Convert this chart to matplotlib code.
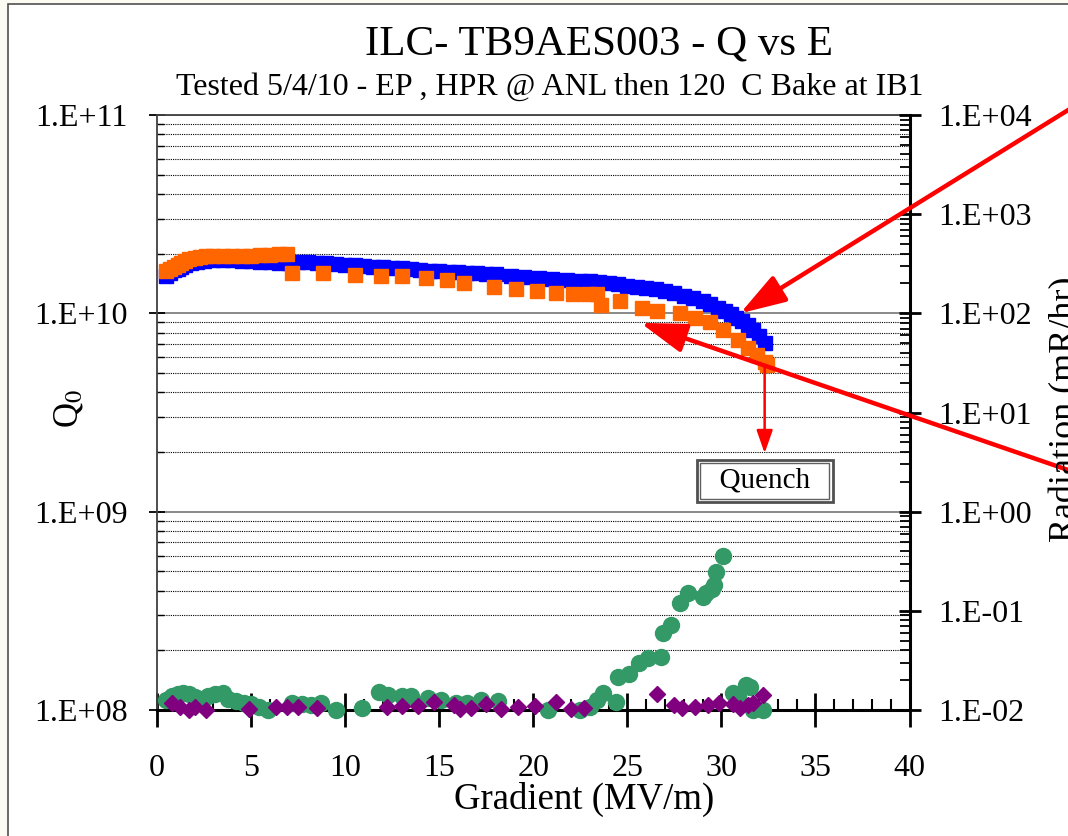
import numpy as np
import matplotlib
matplotlib.use('Agg')
import matplotlib.pyplot as plt
from matplotlib.patches import Rectangle
from matplotlib.ticker import FuncFormatter, LogLocator, NullFormatter, MultipleLocator

plt.rcParams['font.family'] = ['Liberation Serif', 'DejaVu Serif']
plt.rcParams['mathtext.fontset'] = 'stix'

# Q0 vs gradient, first test (blue) and second test (orange)
blue_e = [0.5, 0.7, 0.9, 1.1, 1.3, 1.5, 1.8, 2.1, 2.5, 3.0, 3.5, 4.0, 4.5, 5.0, 5.5, 6.0, 6.5, 7.0,
          7.5, 8.0, 8.5, 9.0, 9.5, 10.0, 10.5, 11.0, 11.5, 12.0, 12.5, 13.0, 13.5, 14.0, 14.5, 15.0,
          15.5, 16.0, 16.5, 17.0, 17.5, 18.0, 18.8, 19.5, 20.3, 21.0, 21.8, 22.5, 23.0, 23.5, 24.0,
          24.5, 25.0, 25.5, 26.0, 26.5, 27.0, 27.5, 28.0, 28.5, 29.0, 29.4, 29.8, 30.2, 30.5, 30.8,
          31.1, 31.4, 31.7, 32.0, 32.3]
blue_q = [1.55, 1.60, 1.65, 1.68, 1.72, 1.75, 1.79, 1.82, 1.84, 1.85, 1.85, 1.85, 1.84, 1.83, 1.82,
          1.81, 1.80, 1.80, 1.82, 1.81, 1.80, 1.79, 1.77, 1.76, 1.75, 1.74, 1.72, 1.71, 1.70, 1.69,
          1.68, 1.66, 1.64, 1.63, 1.62, 1.61, 1.60, 1.59, 1.58, 1.57, 1.54, 1.52, 1.50, 1.49, 1.47,
          1.46, 1.45, 1.44, 1.42, 1.40, 1.38, 1.36, 1.34, 1.32, 1.29, 1.26, 1.23, 1.19, 1.15, 1.11,
          1.07, 1.03, 0.99, 0.95, 0.91, 0.87, 0.82, 0.77, 0.71]

orange_e = [0.5, 0.7, 0.9, 1.1, 1.3, 1.5, 1.7, 2.0, 2.3, 2.6, 3.0, 3.5, 4.0, 4.5, 5.0, 5.5, 6.0, 6.5,
            6.9, 7.2, 8.8, 10.5, 11.9, 13.0, 14.3, 15.4, 16.3, 17.9, 19.1, 20.2, 21.2, 22.1, 22.9,
            23.4, 23.6, 24.6, 25.8, 26.6, 27.8, 28.6, 29.4, 30.1, 30.9, 31.4, 31.9, 32.3, 32.4]
orange_q = [1.63, 1.68, 1.72, 1.76, 1.80, 1.84, 1.88, 1.91, 1.93, 1.94, 1.95, 1.95, 1.95, 1.95, 1.95,
            1.96, 1.97, 1.98, 1.98, 1.60, 1.60, 1.56, 1.55, 1.54, 1.50, 1.47, 1.42, 1.36, 1.33, 1.30,
            1.26, 1.25, 1.25, 1.25, 1.10, 1.16, 1.07, 1.03, 1.00, 0.95, 0.90, 0.82, 0.73, 0.67, 0.62,
            0.57, 0.55]

# radiation (right axis)
green_e = [0.5, 0.8, 1.1, 1.4, 1.7, 2.0, 2.4, 2.7, 3.1, 3.5, 3.8, 4.2, 4.6, 5.0, 5.4, 5.9, 7.2, 7.7,
           8.2, 8.7, 9.5, 10.9, 11.8, 12.3, 13.0, 13.5, 14.4, 15.1, 15.9, 16.5, 17.2, 18.1, 20.8,
           22.5, 23.0, 23.4, 23.7, 24.4, 24.5, 25.1, 25.6, 26.1, 26.8, 26.9, 27.3, 27.8, 28.2, 29.0,
           29.2, 29.5, 29.6, 29.7, 30.1, 30.6, 30.9, 31.3, 31.5, 31.7, 32.2]
green_r = [0.0126, 0.0140, 0.0145, 0.0147, 0.0145, 0.0135, 0.0130, 0.0138, 0.0145, 0.0148, 0.0130,
           0.0122, 0.0118, 0.0116, 0.0107, 0.0100, 0.0118, 0.0116, 0.0112, 0.0118, 0.0100, 0.0104,
           0.0152, 0.0142, 0.0140, 0.0138, 0.0133, 0.0126, 0.0118, 0.0118, 0.0126, 0.0122, 0.0100,
           0.0100, 0.0107, 0.0126, 0.0148, 0.0120, 0.0215, 0.0230, 0.0298, 0.0335, 0.0340, 0.0597,
           0.0720, 0.120, 0.151, 0.138, 0.150, 0.165, 0.182, 0.246, 0.357, 0.0150, 0.0140, 0.0180,
           0.0170, 0.0100, 0.0100]

purple_e = [0.8, 1.2, 1.7, 2.0, 2.6, 4.9, 6.3, 6.9, 7.5, 8.5, 12.2, 13.0, 13.9, 14.7, 15.8, 16.1,
            16.7, 17.5, 18.3, 19.2, 20.1, 21.2, 22.0, 22.7, 26.6, 27.5, 27.9, 28.6, 29.3, 29.9,
            30.6, 31.0, 31.4, 31.7, 32.2]
purple_r = [0.0118, 0.0107, 0.0100, 0.0107, 0.0100, 0.0102, 0.0107, 0.0107, 0.0107, 0.0104, 0.0107,
            0.0110, 0.0110, 0.0120, 0.0112, 0.0102, 0.0104, 0.0114, 0.0102, 0.0107, 0.0110, 0.0120,
            0.0102, 0.0104, 0.0145, 0.0112, 0.0104, 0.0107, 0.0112, 0.0118, 0.0114, 0.0104, 0.0112,
            0.0118, 0.0142]


def sci_label(v, pos):
    e = int(round(np.log10(v)))
    return f"1.E{e:+03d}"


fig = plt.figure(figsize=(10.68, 8.36), dpi=100)
fig.patch.set_facecolor('#fbfbf3')
fig.add_artist(Rectangle((8 / 1068, -0.05), 1.1, 1 - 4 / 836 + 0.05, transform=fig.transFigure,
                         facecolor='white', edgecolor='#505050', lw=1.2, zorder=-10))

ax = fig.add_axes([157 / 1068, 1 - 710 / 836, 752.5 / 1068, 595 / 836])
ax.set_facecolor('none')
ax.set_yscale('log')
ax.set_xlim(0, 40)
ax.set_ylim(1e8, 1e11)

ax.plot(blue_e, np.array(blue_q) * 1e10, 's', color='#0000ff', ms=10, mec='#0000ff', zorder=3)
ax.plot(orange_e, np.array(orange_q) * 1e10, 's', color='#ff6600', ms=10.5, mec='#ff6600', zorder=4)

ax.yaxis.set_major_locator(LogLocator(base=10, numticks=10))
ax.yaxis.set_minor_locator(LogLocator(base=10, subs=np.arange(2, 10), numticks=20))
ax.yaxis.set_major_formatter(FuncFormatter(sci_label))
ax.yaxis.set_minor_formatter(NullFormatter())
ax.xaxis.set_major_locator(MultipleLocator(5))
ax.xaxis.set_minor_locator(MultipleLocator(1))

ax.grid(True, which='major', axis='y', color='#808080', lw=1.3, ls='-')
ax.grid(True, which='minor', axis='y', color='black', lw=0.8, ls=(0, (1, 1)))

ax.tick_params(axis='y', which='major', direction='inout', length=12, width=1.3, labelsize=23, pad=15)
ax.tick_params(axis='y', which='minor', direction='in', length=5, width=1)
ax.tick_params(axis='x', which='major', direction='inout', length=24, width=2, labelsize=23, pad=20)
ax.tick_params(axis='x', which='minor', direction='in', length=8, width=1.5)
for side in ['left', 'top']:
    ax.spines[side].set_color('#404040')
    ax.spines[side].set_linewidth(1.3)
ax.spines['bottom'].set_linewidth(2.2)
ax.spines['right'].set_visible(False)

ax2 = ax.twinx()
ax2.set_yscale('log')
ax2.set_ylim(1e-2, 1e4)
ax2.plot(green_e, green_r, 'o', color='#339966', ms=11.5, mec='#339966', zorder=3, clip_on=False)
ax2.plot(purple_e, purple_r, 'D', color='#800080', ms=8, mec='#800080', zorder=4, clip_on=False)
ax2.yaxis.set_major_locator(LogLocator(base=10, numticks=10))
ax2.yaxis.set_minor_locator(LogLocator(base=10, subs=np.arange(2, 10), numticks=20))
ax2.yaxis.set_major_formatter(FuncFormatter(sci_label))
ax2.yaxis.set_minor_formatter(NullFormatter())
ax2.tick_params(axis='y', which='major', direction='inout', length=16, width=2, labelsize=23, pad=13)
ax2.tick_params(axis='y', which='minor', direction='in', length=7, width=1.3)
ax2.spines['right'].set_linewidth(2.2)
for side in ['left', 'top', 'bottom']:
    ax2.spines[side].set_visible(False)

# arrows and quench note
arrow_big = dict(arrowstyle='-|>,head_length=1.4,head_width=0.45', color='#ff0000', lw=3.2,
                 mutation_scale=20, shrinkA=0, shrinkB=0)
ax2.annotate('', xy=(31.0, 1.0e10), xycoords=ax.transData, xytext=(1.011, 0.877),
             textcoords='figure fraction', arrowprops=arrow_big, annotation_clip=False)
ax2.annotate('', xy=(25.7, 8.95e9), xycoords=ax.transData, xytext=(1.011, 0.433),
             textcoords='figure fraction', arrowprops=arrow_big, annotation_clip=False)
ax2.annotate('', xy=(32.3, 1.97e9), xycoords=ax.transData, xytext=(32.3, 5.5e9),
             textcoords=ax.transData,
             arrowprops=dict(arrowstyle='-|>,head_length=1.0,head_width=0.35', color='#ff0000',
                             lw=1.8, mutation_scale=14, shrinkA=0, shrinkB=0))

ax2.text(32.3, 1.43e9, '  Quench  ', transform=ax.transData, ha='center', va='center', fontsize=21,
         color='none', zorder=5,
         bbox=dict(boxstyle='square,pad=0.28', fc='white', ec='#505050', lw=2))
ax2.text(32.3, 1.43e9, '  Quench  ', transform=ax.transData, ha='center', va='center', fontsize=21,
         color='black', zorder=6,
         bbox=dict(boxstyle='square,pad=0.16', fc='none', ec='#606060', lw=1))

fig.text(0.561, 0.947, 'ILC- TB9AES003 - Q vs E', ha='center', va='center', fontsize=31)
fig.text(0.515, 0.895, 'Tested 5/4/10 - EP , HPR @ ANL then 120  C Bake at IB1', ha='center',
         va='center', fontsize=23)
fig.text(0.547, 0.044, 'Gradient (MV/m)', ha='center', va='center', fontsize=26.5)
fig.text(0.065, 0.512, r'Q$_0$', ha='center', va='center', fontsize=25, rotation=90)
fig.text(0.998, 0.51, 'Radiation (mR/hr)', ha='center', va='center', fontsize=26, rotation=90)

fig.savefig('out.png', dpi=100, facecolor=fig.get_facecolor())
